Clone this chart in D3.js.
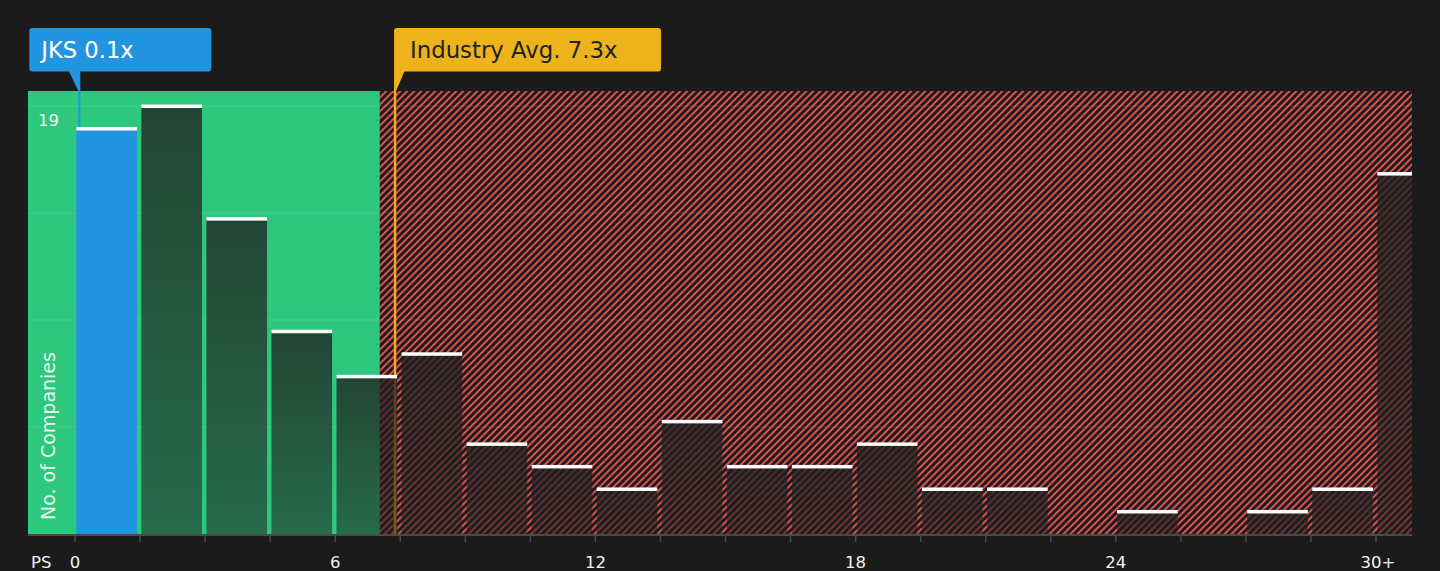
<!DOCTYPE html>
<html>
<head>
<meta charset="utf-8">
<script src="https://cdn.jsdelivr.net/npm/d3@7"></script>
<style>
  html, body { margin: 0; padding: 0; background: #1b1b1b; }
  svg { display: block; font-family: "DejaVu Sans", sans-serif; }
</style>
</head>
<body>
<script>
// Data
const binStarts = [0, 1.5, 3, 4.5, 6, 7.5, 9, 10.5, 12, 13.5, 15, 16.5, 18, 19.5, 21, 22.5, 24, 25.5, 27, 28.5, 30];
const binCounts = [18, 19, 14, 9, 7, 8, 4, 3, 2, 5, 3, 3, 4, 2, 2, 0, 1, 0, 1, 2, 16];
const tickValues = [0, 6, 12, 18, 24, 30];
const tickLabels = ["0", "6", "12", "18", "24", "30+"];
const companyName = "JKS";
const companyValue = 0.1;
const companyLabel = "0.1x";
const industryValue = 7.38;
const industryLabel = "7.3x";
const fairEnd = 7.03;
const yMax = 19;
const binWidth = 1.5;

window.onload = main;

function main() {
    const width = 1440, height = 571;
    const plot = {left: 28, right: 1412, top: 91, bottom: 534};

    const svg = d3.select("body").append("svg")
        .attr("width", width)
        .attr("height", height);

    svg.append("rect").attr("width", width).attr("height", height).attr("fill", "#1b1b1b");

    const x = d3.scaleLinear().domain([0, 30]).range([75, 1376]);
    const y = d3.scaleLinear().domain([0, yMax]).range([plot.bottom, 106]);

    const defs = svg.append("defs");
    const hatch = defs.append("pattern")
        .attr("id", "hatch")
        .attr("patternUnits", "userSpaceOnUse")
        .attr("width", 4.95).attr("height", 4.95)
        .attr("patternTransform", "rotate(45)");
    hatch.append("rect").attr("width", 4.95).attr("height", 4.95).attr("fill", "#1b1b1b");
    hatch.append("rect").attr("width", 2.0).attr("height", 4.95).attr("fill", "#d9514f");

    const grad = defs.append("linearGradient")
        .attr("id", "barGrad")
        .attr("x1", 0).attr("y1", 0).attr("x2", 0).attr("y2", 1);
    grad.append("stop").attr("offset", "0%").attr("stop-color", "#202020").attr("stop-opacity", 0.78);
    grad.append("stop").attr("offset", "100%").attr("stop-color", "#202020").attr("stop-opacity", 0.55);

    defs.append("clipPath").attr("id", "plotClip")
        .append("rect")
        .attr("x", plot.left).attr("y", plot.top)
        .attr("width", plot.right - plot.left).attr("height", plot.bottom - plot.top);

    const g = svg.append("g").attr("clip-path", "url(#plotClip)");

    // background regions
    g.append("rect")
        .attr("x", plot.left).attr("y", plot.top)
        .attr("width", x(fairEnd) - plot.left).attr("height", plot.bottom - plot.top)
        .attr("fill", "#2ec77e");
    g.append("rect")
        .attr("x", x(fairEnd)).attr("y", plot.top)
        .attr("width", plot.right - x(fairEnd)).attr("height", plot.bottom - plot.top)
        .attr("fill", "url(#hatch)");

    // gridlines
    g.selectAll("line.grid")
        .data([1, 2, 3, 4].map(k => yMax * k / 4))
        .join("line")
        .attr("class", "grid")
        .attr("x1", plot.left).attr("x2", plot.right)
        .attr("y1", d => y(d)).attr("y2", d => y(d))
        .attr("stroke", "rgba(255,255,255,0.12)")
        .attr("stroke-width", 1);

    // industry line (under bars)
    g.append("line")
        .attr("x1", x(industryValue)).attr("x2", x(industryValue))
        .attr("y1", plot.top).attr("y2", plot.bottom)
        .attr("stroke", "#f2aa1c").attr("stroke-width", 2.5);

    // company line
    g.append("line")
        .attr("x1", x(companyValue)).attr("x2", x(companyValue))
        .attr("y1", plot.top).attr("y2", plot.bottom)
        .attr("stroke", "#2394e0").attr("stroke-width", 2);

    const bins = binStarts.map((lo, i) => ({
        lo: lo,
        count: binCounts[i],
        company: companyValue >= lo && companyValue < lo + binWidth
    }));

    const bars = bins.filter(b => b.count > 0);
    const bx = b => x(b.lo) + 1.3;
    const bw = b => x(b.lo + binWidth) - x(b.lo) - 4.4;

    g.selectAll("rect.bar")
        .data(bars)
        .join("rect")
        .attr("class", "bar")
        .attr("x", bx)
        .attr("y", d => y(d.count))
        .attr("width", bw)
        .attr("height", d => plot.bottom - y(d.count))
        .attr("fill", d => d.company ? "#2394e0" : "url(#barGrad)");

    g.selectAll("rect.cap")
        .data(bars)
        .join("rect")
        .attr("class", "cap")
        .attr("x", bx)
        .attr("y", d => y(d.count) - 1.5)
        .attr("width", bw)
        .attr("height", 3.5)
        .attr("fill", "#ffffff");

    // x axis
    svg.append("line")
        .attr("x1", plot.left).attr("x2", plot.right)
        .attr("y1", plot.bottom + 1).attr("y2", plot.bottom + 1)
        .attr("stroke", "#4a4a4a").attr("stroke-width", 2);

    svg.selectAll("line.tick")
        .data(binStarts)
        .join("line")
        .attr("class", "tick")
        .attr("x1", d => x(d)).attr("x2", d => x(d))
        .attr("y1", plot.bottom + 1).attr("y2", plot.bottom + 8)
        .attr("stroke", "#4a4a4a").attr("stroke-width", 1.5);

    svg.selectAll("text.tickLabel")
        .data(tickValues)
        .join("text")
        .attr("class", "tickLabel")
        .attr("x", d => x(d) + (d === 30 ? 2 : 0))
        .attr("y", 568)
        .attr("text-anchor", "middle")
        .attr("fill", "#f2f2f2")
        .attr("font-size", 16.5)
        .text((d, i) => tickLabels[i]);

    svg.append("text")
        .attr("x", 31).attr("y", 568)
        .attr("fill", "#f2f2f2").attr("font-size", 16.5)
        .text("PS");

    // y labels
    svg.append("text")
        .attr("x", 38).attr("y", 126)
        .attr("fill", "#f2f2f2").attr("font-size", 16.5)
        .text(yMax);

    svg.append("text")
        .attr("transform", "translate(55,520) rotate(-90)")
        .attr("fill", "rgba(255,255,255,0.88)").attr("font-size", 19)
        .text("No. of Companies");

    // company annotation
    const cx = x(companyValue);
    svg.append("rect")
        .attr("x", cx - 50).attr("y", 28)
        .attr("width", 182).attr("height", 43.5)
        .attr("rx", 3)
        .attr("fill", "#2394e0");
    svg.append("path")
        .attr("d", `M${cx - 11},70 L${cx + 1},70 L${cx + 1},91 L${cx - 1},91 Z`)
        .attr("fill", "#2394e0");
    svg.append("text")
        .attr("x", cx - 38).attr("y", 58)
        .attr("fill", "#ffffff").attr("font-size", 22.6)
        .text(`${companyName} ${companyLabel}`);

    // industry annotation
    const ix = x(industryValue);
    svg.append("rect")
        .attr("x", ix - 1).attr("y", 28)
        .attr("width", 267).attr("height", 43.5)
        .attr("rx", 3)
        .attr("fill", "#eeb31b");
    svg.append("path")
        .attr("d", `M${ix - 1},70 L${ix + 10},70 L${ix + 1},91 L${ix - 1},91 Z`)
        .attr("fill", "#eeb31b");
    svg.append("text")
        .attr("x", ix + 15).attr("y", 58)
        .attr("fill", "#222222").attr("font-size", 22.8)
        .text(`Industry Avg. ${industryLabel}`);
}
</script>
</body>
</html>
